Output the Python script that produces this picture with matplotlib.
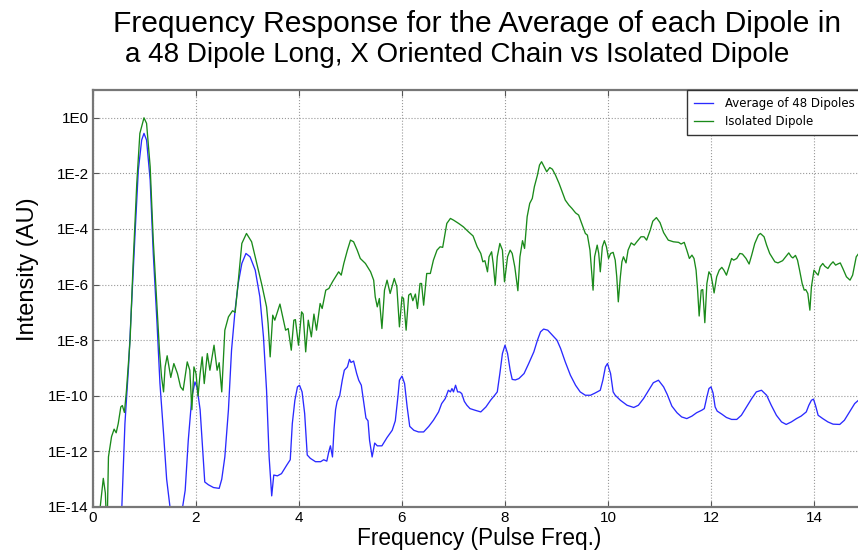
import numpy as np
import matplotlib
matplotlib.use("Agg")
import matplotlib.pyplot as plt

# Frequency axis (in units of the pulse frequency) and log10 intensity of each trace
avg_freq = [0.50, 0.56, 0.62, 0.69, 0.75, 0.82, 0.88, 0.945, 0.99, 1.04, 1.11, 1.17, 1.24, 1.30, 1.37,
            1.43, 1.495, 1.55, 1.70, 1.74, 1.79, 1.85, 1.92, 1.98, 2.02, 2.08, 2.13, 2.17, 2.24, 2.34,
            2.45, 2.50, 2.56, 2.63, 2.69, 2.76, 2.82, 2.89, 2.97, 3.05, 3.15, 3.24, 3.31, 3.37, 3.42,
            3.47, 3.51, 3.58, 3.66, 3.76, 3.83, 3.87, 3.92, 3.97, 4.01, 4.06, 4.11, 4.16, 4.22, 4.32,
            4.42, 4.48, 4.54, 4.58, 4.61, 4.65, 4.68, 4.71, 4.74, 4.79, 4.84, 4.88, 4.94, 4.98, 5.01,
            5.06, 5.12, 5.16, 5.21, 5.26, 5.30, 5.34, 5.37, 5.42, 5.47, 5.52, 5.61, 5.71, 5.81, 5.87,
            5.92, 5.95, 6.00, 6.05, 6.10, 6.15, 6.23, 6.32, 6.42, 6.52, 6.61, 6.71, 6.77, 6.84, 6.90,
            6.94, 6.97, 7.00, 7.04, 7.08, 7.12, 7.16, 7.21, 7.26, 7.32, 7.42, 7.53, 7.63, 7.72, 7.80,
            7.85, 7.90, 7.95, 8.00, 8.05, 8.10, 8.14, 8.20, 8.27, 8.37, 8.46, 8.56, 8.63, 8.69, 8.75,
            8.83, 8.92, 9.01, 9.08, 9.17, 9.27, 9.37, 9.46, 9.56, 9.66, 9.75, 9.85, 9.90, 9.95, 9.99,
            10.05, 10.10, 10.14, 10.24, 10.37, 10.50, 10.59, 10.69, 10.79, 10.88, 10.98, 11.08, 11.15,
            11.24, 11.34, 11.43, 11.53, 11.63, 11.72, 11.82, 11.87, 11.92, 11.96, 12.00, 12.04, 12.08,
            12.12, 12.21, 12.30, 12.40, 12.50, 12.59, 12.69, 12.79, 12.88, 12.98, 13.08, 13.17, 13.27,
            13.37, 13.46, 13.56, 13.66, 13.75, 13.85, 13.90, 13.95, 13.99, 14.03, 14.08, 14.17, 14.27,
            14.37, 14.50, 14.59, 14.69, 14.79, 14.90]
avg_log_intensity = [-16, -14.0, -11.0, -8.96, -6.68, -4.04, -1.88, -0.8, -0.56, -0.8, -2.24, -4.88, -7.28, -9.56, -11.36,
                     -13.0, -14.0, -16, -16, -14.0, -13.4, -11.6, -10.04, -9.5, -9.7, -10.5, -11.95, -13.1, -13.2, -13.3,
                     -13.33, -13.0, -12.2, -10.5, -8.36, -6.9, -5.96, -5.24, -4.88, -5.0, -5.48, -6.44, -7.88, -9.8, -12.2,
                     -13.6, -12.85, -12.88, -12.8, -12.5, -12.3, -11.0, -10.16, -9.68, -9.62, -9.86, -10.64, -12.13, -12.25, -12.37,
                     -12.37, -12.3, -12.35, -12.0, -11.8, -12.2, -11.2, -10.5, -10.2, -10.0, -9.44, -9.08, -8.96, -8.69, -8.8,
                     -8.75, -9.2, -9.44, -9.62, -10.28, -10.8, -10.9, -11.6, -12.2, -11.7, -11.8, -11.8, -11.5, -11.24, -10.9,
                     -10.04, -9.44, -9.29, -9.56, -10.4, -11.1, -11.24, -11.3, -11.3, -11.1, -10.88, -10.58, -10.28, -10.1, -9.8,
                     -9.86, -9.74, -9.86, -9.62, -9.86, -9.86, -9.92, -10.2, -10.34, -10.46, -10.52, -10.58, -10.4, -10.16, -9.98,
                     -9.86, -9.2, -8.48, -8.18, -8.48, -9.08, -9.41, -9.43, -9.38, -9.2, -8.84, -8.42, -8.0, -7.7, -7.6,
                     -7.64, -7.82, -8.0, -8.3, -8.78, -9.26, -9.62, -9.86, -9.98, -9.98, -9.9, -9.8, -9.44, -8.96, -8.84,
                     -9.2, -9.86, -9.98, -10.16, -10.34, -10.42, -10.34, -10.1, -9.8, -9.53, -9.44, -9.68, -9.95,
                     -10.37, -10.61, -10.76, -10.82, -10.73, -10.61, -10.52, -10.46, -10.04, -9.74, -9.68, -9.9, -10.4,
                     -10.55, -10.66, -10.78, -10.85, -10.85, -10.7, -10.4, -10.1, -9.86, -9.8, -9.98, -10.34, -10.7,
                     -10.94, -11.03, -10.94, -10.82, -10.73, -10.58, -10.34, -10.16, -10.12, -10.35, -10.7, -10.82, -10.94,
                     -11.02, -11.03, -10.88, -10.58, -10.28, -10.1]

iso_freq = [0.10, 0.14, 0.20, 0.24, 0.26, 0.28, 0.30, 0.36, 0.41, 0.45, 0.49, 0.54, 0.57, 0.61, 0.65,
            0.72, 0.78, 0.85, 0.91, 0.99, 1.04, 1.11, 1.17, 1.24, 1.29, 1.33, 1.37, 1.40, 1.44, 1.51,
            1.57, 1.64, 1.70, 1.75, 1.83, 1.88, 1.92, 1.96, 2.00, 2.04, 2.08, 2.12, 2.16, 2.22, 2.27,
            2.35, 2.41, 2.45, 2.50, 2.56, 2.63, 2.71, 2.76, 2.81, 2.89, 2.98, 3.08, 3.18, 3.28, 3.37,
            3.40, 3.44, 3.49, 3.53, 3.63, 3.70, 3.74, 3.79, 3.85, 3.90, 3.93, 3.99, 4.05, 4.08, 4.13,
            4.18, 4.24, 4.29, 4.34, 4.41, 4.45, 4.52, 4.58, 4.65, 4.71, 4.77, 4.82, 4.87, 4.94, 5.00,
            5.06, 5.13, 5.19, 5.29, 5.39, 5.45, 5.48, 5.52, 5.56, 5.61, 5.66, 5.71, 5.77, 5.85, 5.90,
            5.95, 6.00, 6.03, 6.08, 6.13, 6.17, 6.21, 6.26, 6.30, 6.35, 6.38, 6.42, 6.48, 6.55, 6.61,
            6.68, 6.74, 6.79, 6.87, 6.94, 7.00, 7.10, 7.19, 7.29, 7.38, 7.46, 7.53, 7.57, 7.61, 7.66,
            7.69, 7.74, 7.77, 7.81, 7.85, 7.90, 7.95, 7.99, 8.05, 8.10, 8.14, 8.19, 8.25, 8.29, 8.34,
            8.38, 8.43, 8.48, 8.53, 8.57, 8.63, 8.67, 8.71, 8.76, 8.81, 8.87, 8.92, 8.98, 9.05, 9.11,
            9.17, 9.24, 9.30, 9.37, 9.43, 9.50, 9.56, 9.60, 9.65, 9.68, 9.71, 9.74, 9.79, 9.82, 9.85,
            9.89, 9.93, 9.97, 10.01, 10.05, 10.10, 10.14, 10.17, 10.20, 10.24, 10.27, 10.30, 10.35, 10.39, 10.45,
            10.51, 10.56, 10.64, 10.70, 10.75, 10.82, 10.87, 10.94, 11.01, 11.08, 11.17, 11.27, 11.37, 11.42, 11.48,
            11.53, 11.58, 11.63, 11.67, 11.71, 11.74, 11.77, 11.81, 11.84, 11.88, 11.92, 11.96, 12.00, 12.03, 12.06,
            12.11, 12.16, 12.21, 12.25, 12.30, 12.35, 12.40, 12.44, 12.50, 12.56, 12.61, 12.68, 12.74, 12.79, 12.85,
            12.92, 12.96, 13.03, 13.08, 13.14, 13.24, 13.30, 13.39, 13.45, 13.51, 13.56, 13.59, 13.64, 13.68, 13.72,
            13.77, 13.81, 13.84, 13.88, 13.92, 13.95, 14.00, 14.05, 14.08, 14.12, 14.17, 14.21, 14.27, 14.32, 14.37,
            14.42, 14.46, 14.51, 14.56, 14.63, 14.70, 14.75, 14.82, 14.90]
iso_log_intensity = [-16, -14.0, -12.97, -13.5, -14.5, -14.2, -12.2, -11.47, -11.2, -11.33, -11.0, -10.4, -10.35, -10.6, -9.8,
                     -8.0, -5.2, -2.36, -0.56, 0.0, -0.2, -1.76, -4.4, -6.68, -8.36, -9.3, -9.86, -8.96, -8.56, -9.34,
                     -8.84, -9.2, -9.68, -9.8, -8.78, -9.08, -10.5, -8.96, -9.2, -10.0, -9.2, -8.6, -9.56, -8.48, -9.08,
                     -8.18, -9.08, -8.81, -9.86, -7.64, -7.16, -6.94, -7.0, -6.08, -4.52, -4.16, -4.46, -5.24, -6.02, -6.8,
                     -7.4, -8.6, -7.1, -7.28, -6.7, -7.3, -7.64, -7.58, -8.36, -7.28, -7.26, -8.18, -6.98, -7.06, -8.42,
                     -7.28, -7.88, -7.06, -7.64, -6.68, -6.86, -6.2, -6.14, -5.9, -5.72, -5.54, -5.66, -5.24, -4.76, -4.4,
                     -4.46, -4.76, -5.06, -5.24, -5.54, -5.84, -6.44, -6.8, -6.5, -7.58, -6.2, -5.84, -6.32, -5.78, -6.08,
                     -7.52, -6.44, -6.5, -7.64, -6.38, -6.32, -6.58, -6.34, -6.86, -5.96, -5.96, -6.74, -5.6, -5.6, -5.12,
                     -4.76, -4.64, -4.66, -3.8, -3.62, -3.68, -3.8, -3.92, -4.1, -4.25, -4.64, -4.88, -5.18, -5.14, -5.54,
                     -5.0, -4.82, -5.24, -6.02, -5.0, -4.52, -4.76, -5.9, -5.0, -4.76, -4.88, -5.36, -6.22, -5.0, -4.42,
                     -4.7, -3.56, -3.08, -2.9, -2.48, -2.06, -1.7, -1.58, -1.76, -1.94, -1.79, -1.85, -2.06, -2.36, -2.66,
                     -2.96, -3.14, -3.26, -3.42, -3.5, -3.86, -4.16, -4.22, -4.76, -5.48, -6.2, -5.0, -4.58, -4.88, -5.54,
                     -4.64, -4.42, -4.64, -5.06, -4.88, -4.84, -5.12, -5.72, -6.62, -5.72, -5.18, -5.0, -5.22, -4.76, -4.5,
                     -4.58, -4.46, -4.28, -4.28, -4.4, -4.04, -3.72, -3.59, -3.77, -4.13, -4.4, -4.46, -4.48, -4.54, -4.48,
                     -4.76, -5.06, -4.94, -5.06, -5.48, -6.2, -7.13, -6.2, -6.18, -7.37, -5.96, -5.54, -5.66, -5.96, -6.3,
                     -5.72, -5.48, -5.38, -5.48, -5.66, -5.36, -5.06, -5.12, -5.06, -4.88, -4.9, -5.06, -5.26, -4.94, -4.52,
                     -4.22, -4.16, -4.28, -4.58, -4.88, -5.18, -5.22, -5.14, -5.0, -4.86, -5.0, -5.04, -4.95, -5.12, -5.48,
                     -5.96, -6.2, -6.18, -6.32, -6.92, -6.08, -5.48, -5.6, -5.66, -5.36, -5.24, -5.34, -5.42, -5.28, -5.18,
                     -5.3, -5.26, -5.22, -5.42, -5.72, -5.84, -5.66, -5.0, -4.8]

x_ticks = [0, 2, 4, 6, 8, 10, 12, 14]
y_exponents = [0, -2, -4, -6, -8, -10, -12, -14]
y_tick_labels = ["1E0", "1E-2", "1E-4", "1E-6", "1E-8", "1E-10", "1E-12", "1E-14"]
title_lines = ["Frequency Response for the Average of each Dipole in",
               "a 48 Dipole Long, X Oriented Chain vs Isolated Dipole"]

W, H = 858, 553
fig = plt.figure(figsize=(W / 100, H / 100), dpi=100)
# axes run slightly past the right edge of the canvas
ax = fig.add_axes([93 / W, (H - 507) / H, (865.5 - 93) / W, (507 - 90) / H])

ax.plot(avg_freq, 10.0 ** np.array(avg_log_intensity), color="#2a2aff", lw=0.95,
        label="Average of 48 Dipoles")
ax.plot(iso_freq, 10.0 ** np.array(iso_log_intensity), color="#1a8a1a", lw=0.95,
        label="Isolated Dipole")

ax.set_yscale("log")
ax.set_xlim(0, 15)
ax.set_ylim(1e-14, 1e1)
ax.set_xticks(x_ticks)
ax.set_xticklabels([str(t) for t in x_ticks])
ax.set_yticks([10.0 ** e for e in y_exponents])
ax.set_yticklabels(y_tick_labels)
ax.yaxis.set_minor_locator(matplotlib.ticker.NullLocator())

for lab in ax.get_xticklabels() + ax.get_yticklabels():
    lab.set_fontfamily("Liberation Sans")
    lab.set_fontsize(11)
ax.tick_params(direction="in", length=4, width=0.8, color="#555555", top=True, right=True,
               pad=3)

for side in ["left", "bottom", "top", "right"]:
    ax.spines[side].set_color("#777777")
    ax.spines[side].set_linewidth(1.6)

ax.grid(True, which="major", linestyle=":", color="#999999", linewidth=0.8)

ax.set_xlabel("Frequency (Pulse Freq.)", family="Liberation Sans", fontsize=16.3, labelpad=1)
ax.set_ylabel("Intensity (AU)", family="Liberation Sans", fontsize=17)
ax.yaxis.set_label_coords(-0.07, 0.57)

# two-line title, each line placed on its own baseline
fig.text(477 / W, 1 - 32 / H, title_lines[0], ha="center", va="baseline",
         family="Liberation Sans", fontsize=21.6)
fig.text(457 / W, 1 - 62 / H, title_lines[1], ha="center", va="baseline",
         family="Liberation Sans", fontsize=20.0)

leg = ax.legend(loc="upper right", bbox_to_anchor=((862 - 93) / 772.5, 1.0), borderaxespad=0.0,
                prop={"family": "DejaVu Sans", "size": 8.5}, fancybox=False,
                handlelength=1.6, handletextpad=1.0, borderpad=0.6, labelspacing=0.4,
                framealpha=1.0)
leg.get_frame().set_edgecolor("#333333")
leg.get_frame().set_linewidth(1.0)

fig.savefig("out.png", dpi=100)
